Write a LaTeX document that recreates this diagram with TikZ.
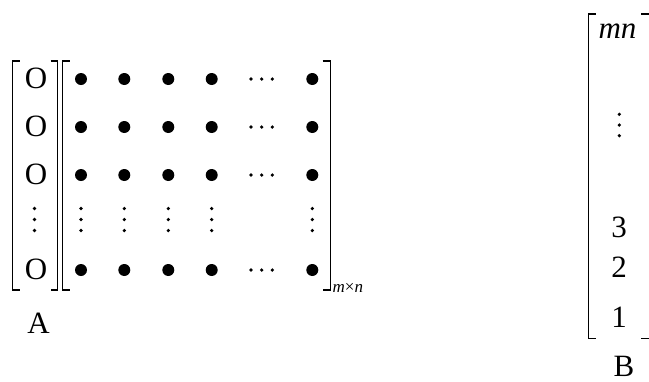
\documentclass[tikz,border=0pt]{standalone}
\usepackage{fontspec}
\setmainfont{Liberation Serif}
\begin{document}
\begin{tikzpicture}[x=1pt,y=-1pt,
  brk/.style={line width=1.1pt},
  big/.style={circle,fill=black,inner sep=0pt,minimum size=12pt},
  sm/.style={circle,fill=black,inner sep=0pt,minimum size=3.6pt},
  lbl/.style={font=\fontsize{31}{34}\selectfont,inner sep=0pt,anchor=base},
  sub/.style={font=\fontsize{17}{19}\selectfont,inner sep=0pt,anchor=base west}]
\useasboundingbox (0,0) rectangle (649,381);
\clip (0,0) rectangle (649,381);
% brackets of A
\draw[brk] (19.5,61) -- (12.5,61) -- (12.5,290) -- (19.5,290);
\draw[brk] (50.5,61) -- (57.5,61) -- (57.5,290) -- (50.5,290);
% brackets of second matrix
\draw[brk] (69.5,61) -- (62.5,61) -- (62.5,290) -- (69.5,290);
\draw[brk] (322.5,61) -- (330.5,61) -- (330.5,290) -- (322.5,290);
% brackets of B
\draw[brk] (595.5,14) -- (588.5,14) -- (588.5,338.5) -- (595.5,338.5);
\draw[brk] (641,14) -- (649.6,14) -- (649.6,338.5) -- (641,338.5);
% column A
\foreach \r/\y in {1/79,2/127,3/175,5/270}
  \node[lbl] (o\r) at (36,\y+9.5) {O};
\foreach \k/\y in {1/208.5,2/219.5,3/230.5}
  \node[sm] (ov\k) at (34.5,\y) {};
% dots matrix
\foreach \c/\x in {1/81,2/124.3,3/168.3,4/211.7,6/312.3}{
  \foreach \r/\y in {1/79,2/127,3/175,5/270}
    \node[big] (d\r\c) at (\x,\y) {};
  \foreach \k/\y in {1/208.5,2/219.5,3/230.5}
    \node[sm] (v\c\k) at (\x,\y) {};
}
\foreach \r/\y in {1/79,2/127,3/175,5/270}
  \foreach \k/\x in {1/251,2/261.7,3/272.3}
    \node[sm] (h\r\k) at (\x,\y) {};
\node[sub] (mxn) at (332.5,292) {\textit{m}×\textit{n}};
\node[lbl] (A) at (38.5,333.3) {A};
% B
\node[lbl] (mn) at (617.5,38.3) {\textit{mn}};
\foreach \k/\y in {1/114.3,2/125,3/135.7}
  \node[sm] (bv\k) at (619.3,\y) {};
\node[lbl] (n3) at (619,237.5) {3};
\node[lbl] (n2) at (619,277.5) {2};
\node[lbl] (n1) at (619,327.5) {1};
\node[lbl] (B) at (624,376.5) {B};
\end{tikzpicture}
\end{document}
